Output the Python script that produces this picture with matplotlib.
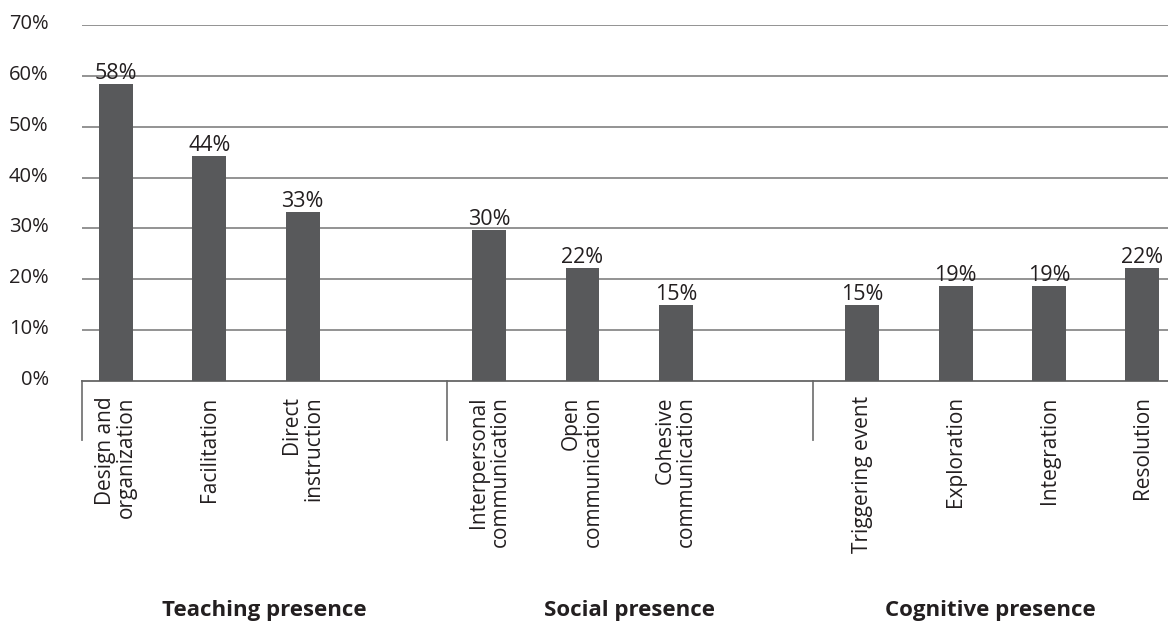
import numpy as np
import matplotlib
matplotlib.use("Agg")
import matplotlib.pyplot as plt
from matplotlib.transforms import ScaledTranslation

plt.rcParams['font.family'] = ['Open Sans', 'DejaVu Sans']

# data
categories = ["Design and\norganization", "Facilitation", "Direct\ninstruction",
              "Interpersonal\ncommunication", "Open\ncommunication", "Cohesive\ncommunication",
              "Triggering event", "Exploration", "Integration", "Resolution"]
values = [58.4, 44.3, 33.2, 29.7, 22.2, 14.9, 14.9, 18.7, 18.7, 22.2]
value_labels = ["58%", "44%", "33%", "30%", "22%", "15%", "15%", "19%", "19%", "22%"]
groups = ["Teaching presence", "Social presence", "Cognitive presence"]
group_sizes = [3, 3, 4]
yticks = [0, 10, 20, 30, 40, 50, 60, 70]

bar_color = "#58595b"
text_color = "#231f20"

# positions: one empty slot between groups
xpos = []
start = 0
for n in group_sizes:
    xpos += list(range(start, start + n))
    start += n + 1
xpos = np.array(xpos)

fig = plt.figure(figsize=(11.68, 6.22), dpi=100)
ax = fig.add_axes([0.0702, 0.3875, 0.9298, 0.5723])

ax.bar(xpos, values, width=0.364, color=bar_color, zorder=3)
for x, v, lab in zip(xpos, values, value_labels):
    ax.annotate(lab, (x, v), xytext=(0, 3.6), textcoords="offset points",
                ha="center", va="baseline", fontsize=15.5, color=text_color, zorder=4)

ax.set_xlim(-0.364, 11.275)
ax.set_ylim(0, 70)
ax.set_yticks(yticks)
ax.set_yticklabels([f"{t}%" for t in yticks], fontsize=14.5, color=text_color)
for t in yticks[1:]:
    ax.axhline(t, color="#8a8a8a", lw=1.3, zorder=1)

for s in ["top", "right", "left"]:
    ax.spines[s].set_visible(False)
ax.spines["bottom"].set_color("#666666")
ax.spines["bottom"].set_linewidth(1.3)
ax.tick_params(axis="y", length=0, pad=24)
ax.tick_params(axis="x", length=0, pad=11)
for lab in ax.get_yticklabels():
    lab.set_transform(lab.get_transform() + ScaledTranslation(0, 0.035, fig.dpi_scale_trans))

ax.set_xticks(xpos)
ax.set_xticklabels(categories, rotation=90, fontsize=15, color=text_color,
                   va="top", ha="center", multialignment="right", linespacing=1.05)

# group separators and group names
seps = [-0.364, 3.544, 7.467, 11.275]
for i, g in enumerate(groups):
    ax.plot([seps[i], seps[i]], [0, -11.6], color="#777777", lw=1.3, clip_on=False)
    xc = (seps[i] + seps[i + 1]) / 2
    ax.text(xc, -46.3, g, ha="center", va="baseline", fontsize=16,
            fontweight="bold", color=text_color)

fig.savefig("out.png", dpi=100)
